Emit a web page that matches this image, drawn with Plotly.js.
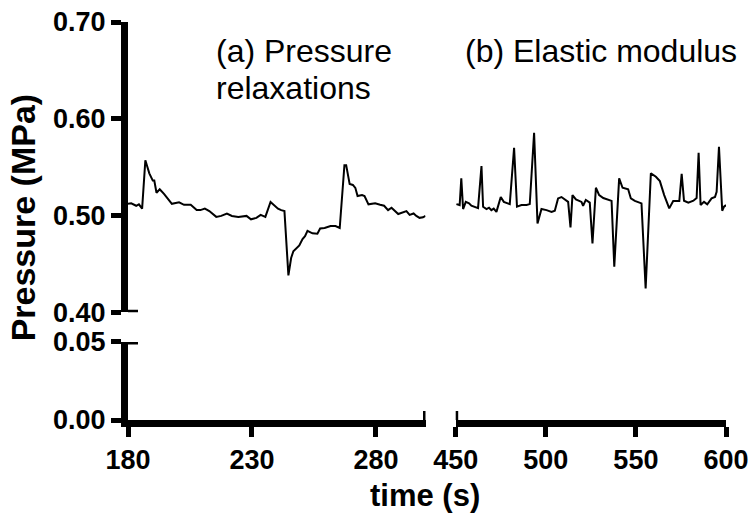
<!DOCTYPE html>
<html>
<head>
<meta charset="utf-8">
<script src="https://cdn.plot.ly/plotly-3.0.1.min.js"></script>
<style>html,body{margin:0;padding:0;background:#fff;}#chart{width:749px;height:518px;}</style>
</head>
<body>
<div id="chart"></div>
<script>
// (a) Pressure relaxations segment
const timeA = [180.0, 181.3, 183.3, 184.4, 185.7, 187.0, 188.6, 190.0, 190.6, 191.5, 192.8, 194.6, 197.7, 200.6, 202.6, 205.3, 207.7, 209.2, 211.0, 212.8, 215.6, 217.6, 219.9, 221.9, 224.5, 227.8, 229.6, 231.8, 233.5, 235.4, 237.5, 239.1, 240.5, 241.8, 243.1, 244.7, 245.8, 246.7, 249.1, 250.4, 251.4, 252.4, 254.4, 256.4, 257.5, 259.3, 261.7, 263.7, 265.4, 267.3, 268.0, 269.4, 270.7, 271.7, 272.6, 274.4, 275.4, 277.0, 279.7, 281.7, 283.3, 284.9, 286.3, 289.0, 292.3, 293.6, 295.2, 296.3, 297.6, 299.0, 300.0];
const pressureA = [0.512, 0.5125, 0.510, 0.5115, 0.507, 0.557, 0.5435, 0.536, 0.536, 0.5235, 0.527, 0.522, 0.512, 0.5135, 0.511, 0.511, 0.5055, 0.5055, 0.507, 0.5045, 0.4985, 0.4995, 0.502, 0.4995, 0.4985, 0.4995, 0.496, 0.4975, 0.5005, 0.4985, 0.514, 0.5105, 0.507, 0.5055, 0.5045, 0.438, 0.456, 0.463, 0.469, 0.4755, 0.4785, 0.484, 0.4815, 0.481, 0.4865, 0.487, 0.489, 0.489, 0.487, 0.552, 0.552, 0.5325, 0.5315, 0.5285, 0.520, 0.521, 0.520, 0.5115, 0.5125, 0.511, 0.510, 0.5055, 0.508, 0.5015, 0.5045, 0.5005, 0.502, 0.4995, 0.4975, 0.498, 0.4995];

// (b) Elastic modulus segment
const timeB = [450.4, 452.2, 453.1, 454.1, 455.6, 457.4, 458.7, 460.6, 462.4, 464.3, 465.2, 467.1, 468.5, 469.8, 471.1, 472.6, 475.0, 476.7, 480.0, 482.4, 484.0, 486.5, 489.3, 491.1, 493.5, 495.4, 497.6, 500.4, 503.2, 505.0, 506.8, 508.7, 510.6, 512.4, 513.7, 514.8, 516.7, 519.8, 520.7, 522.2, 524.4, 525.9, 527.8, 529.6, 531.9, 534.1, 536.5, 538.0, 539.3, 540.7, 542.6, 545.7, 547.2, 549.4, 553.1, 555.4, 558.3, 561.1, 563.3, 565.7, 568.5, 570.7, 574.1, 575.4, 576.7, 579.1, 581.9, 583.7, 584.8, 585.9, 587.8, 589.6, 592.0, 593.9, 594.8, 596.1, 597.9, 598.9, 600.0];
const pressureB = [0.5117, 0.5107, 0.5383, 0.5066, 0.514, 0.5125, 0.510, 0.509, 0.5075, 0.551, 0.509, 0.5066, 0.508, 0.5055, 0.507, 0.5037, 0.519, 0.514, 0.5117, 0.570, 0.509, 0.5107, 0.5107, 0.5117, 0.5855, 0.4917, 0.5066, 0.5055, 0.5037, 0.5048, 0.5176, 0.519, 0.516, 0.514, 0.4876, 0.521, 0.5166, 0.514, 0.510, 0.516, 0.5133, 0.471, 0.5286, 0.521, 0.518, 0.5166, 0.515, 0.447, 0.4883, 0.5383, 0.5286, 0.527, 0.5176, 0.515, 0.5125, 0.4245, 0.5435, 0.540, 0.5355, 0.521, 0.5073, 0.515, 0.515, 0.543, 0.5152, 0.5133, 0.5152, 0.518, 0.5648, 0.5107, 0.514, 0.5114, 0.5176, 0.519, 0.5245, 0.571, 0.5048, 0.509, 0.5107];

const xTicksA = [180, 230, 280];
const xTicksB = [450, 500, 550, 600];
const yTicksUpper = [0.40, 0.50, 0.60, 0.70];
const yTicksLower = [0.00, 0.05];
const labelA1 = '(a) Pressure';
const labelA2 = 'relaxations';
const labelB = '(b) Elastic modulus';
const xTitle = 'time (s)';
const yTitle = 'Pressure (MPa)';

const FONT = 'Liberation Sans, Arial, sans-serif';
const tickFont = {family: FONT, size: 27, color: '#000', weight: 'bold'};
const axisBase = {
  showgrid: false, zeroline: false, showline: true, linewidth: 7, linecolor: '#000',
  ticks: 'outside', ticklen: 10, tickwidth: 5, tickcolor: '#000', tickfont: tickFont,
  fixedrange: true
};

const traces = [
  {x: timeA, y: pressureA, xaxis: 'x', yaxis: 'y2', type: 'scatter', mode: 'lines',
   line: {color: '#000', width: 2}, hoverinfo: 'skip'},
  {x: timeB, y: pressureB, xaxis: 'x2', yaxis: 'y2', type: 'scatter', mode: 'lines',
   line: {color: '#000', width: 2}, hoverinfo: 'skip'}
];

function vbar(xref, xval, yref, yanchor) {
  return {type: 'line', xref: xref, x0: xval, x1: xval, yref: yref, ysizemode: 'pixel',
    yanchor: yanchor, y0: -13, y1: 9, line: {color: '#000', width: 5}, layer: 'above'};
}
function hbar(yref, yval, xref, xanchor) {
  return {type: 'line', yref: yref, y0: yval, y1: yval, xref: xref, xsizemode: 'pixel',
    xanchor: xanchor, x0: -14, x1: 10, line: {color: '#000', width: 5}, layer: 'above'};
}

const layout = {
  width: 749, height: 518,
  margin: {l: 128, r: 23, t: 22, b: 98, pad: 0},
  paper_bgcolor: '#fff', plot_bgcolor: '#fff',
  showlegend: false,
  font: {family: FONT, color: '#000'},
  xaxis: Object.assign({}, axisBase, {domain: [0, 0.4975], range: [180, 300], anchor: 'y',
    tickvals: xTicksA, ticktext: xTicksA.map(String)}),
  xaxis2: Object.assign({}, axisBase, {domain: [0.548, 1], range: [450, 600], anchor: 'y',
    tickvals: xTicksB, ticktext: xTicksB.map(String)}),
  yaxis: Object.assign({}, axisBase, {domain: [0, 0.196], range: [0, 0.05], anchor: 'x',
    tickvals: yTicksLower, ticktext: yTicksLower.map(v => v.toFixed(2))}),
  yaxis2: Object.assign({}, axisBase, {domain: [0.271, 1], range: [0.4, 0.7], anchor: 'x',
    tickvals: yTicksUpper, ticktext: yTicksUpper.map(v => v.toFixed(2))}),
  shapes: [
    hbar('y2', 0.40, 'x', 180),
    hbar('y', 0.05, 'x', 180),
    vbar('x', 300, 'y', 0),
    vbar('x2', 450, 'y', 0)
  ],
  annotations: [
    {text: labelA1, xref: 'paper', yref: 'paper', x: 0.143, y: 0.928, xanchor: 'left', yanchor: 'middle',
     showarrow: false, font: {family: FONT, size: 32, color: '#000'}},
    {text: labelA2, xref: 'paper', yref: 'paper', x: 0.143, y: 0.835, xanchor: 'left', yanchor: 'middle',
     showarrow: false, font: {family: FONT, size: 32, color: '#000'}},
    {text: labelB, xref: 'paper', yref: 'paper', x: 0.561, y: 0.928, xanchor: 'left', yanchor: 'middle',
     showarrow: false, font: {family: FONT, size: 32, color: '#000'}},
    {text: xTitle, xref: 'paper', yref: 'paper', x: 0.497, y: -0.19, xanchor: 'center', yanchor: 'middle',
     showarrow: false, font: {family: FONT, size: 31, color: '#000', weight: 'bold'}},
    {text: yTitle, xref: 'paper', yref: 'paper', x: -0.175, y: 0.51, xanchor: 'center', yanchor: 'middle',
     textangle: -90, showarrow: false, font: {family: FONT, size: 34, color: '#000', weight: 'bold'}}
  ]
};

Plotly.newPlot('chart', traces, layout, {displayModeBar: false, staticPlot: true});
</script>
</body>
</html>
